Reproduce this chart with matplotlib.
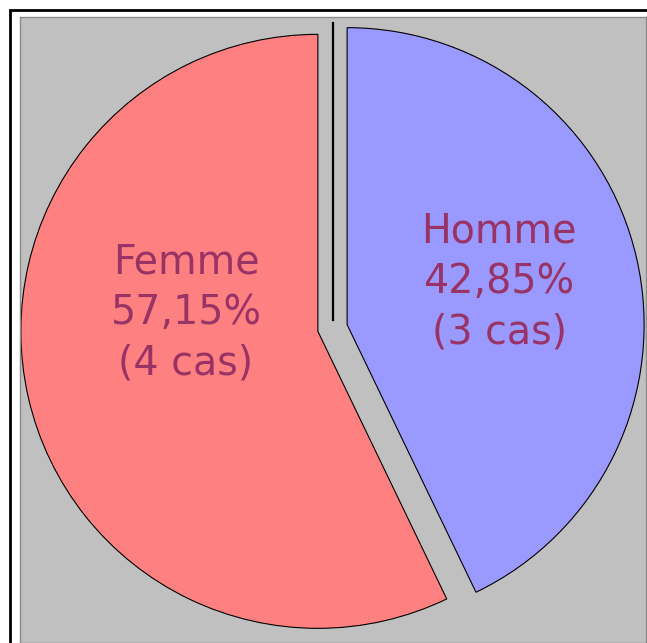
import matplotlib.pyplot as plt
from matplotlib.patches import Rectangle

# Data
labels = ["Homme", "Femme"]
cases = [3, 4]
percent_text = ["42,85%", "57,15%"]
colors = ["#9999ff", "#ff8080"]

W, H = 647, 643
fig = plt.figure(figsize=(W / 100, H / 100), dpi=100)
fig.patch.set_facecolor("white")

# black frame (only top and left visible, the rest is cropped)
fig.add_artist(Rectangle((10 / W, -0.1), 2, (H - 10) / H + 0.1,
                         transform=fig.transFigure, fill=False,
                         edgecolor="black", linewidth=2.0))

# gray plot area, data units are pixels (y measured from the bottom)
ax = fig.add_axes([20 / W, 0, 626 / W, 626 / H])
ax.set_facecolor("#c0c0c0")

cx, cy, r = 332.5, H - 328, 297
# explode is an absolute offset in data units (pixels here)
wedges, _ = ax.pie(cases, colors=colors, startangle=90, counterclock=False,
                   explode=[15, 15], center=(cx, cy), radius=r,
                   frame=True,
                   wedgeprops=dict(edgecolor="black", linewidth=0.8))

ax.plot([cx, cx], [cy + 8, cy + 305], color="black", linewidth=1.6)

ax.set_xlim(20, 646)
ax.set_ylim(0, 626)
ax.set_aspect("auto")
ax.set_xticks([])
ax.set_yticks([])
for s in ax.spines.values():
    s.set_color("#8c8c8c")
    s.set_linewidth(1.0)

label_pos = [(499, H - 282), (186, H - 313)]
for name, n, pct, (tx, ty) in zip(labels, cases, percent_text, label_pos):
    ax.text(tx, ty, f"{name}\n{pct}\n({n} cas)", ha="center", va="center",
            color="#993366", fontsize=28.5, linespacing=1.35,
            family="DejaVu Sans")

fig.savefig("out.png", dpi=100)
